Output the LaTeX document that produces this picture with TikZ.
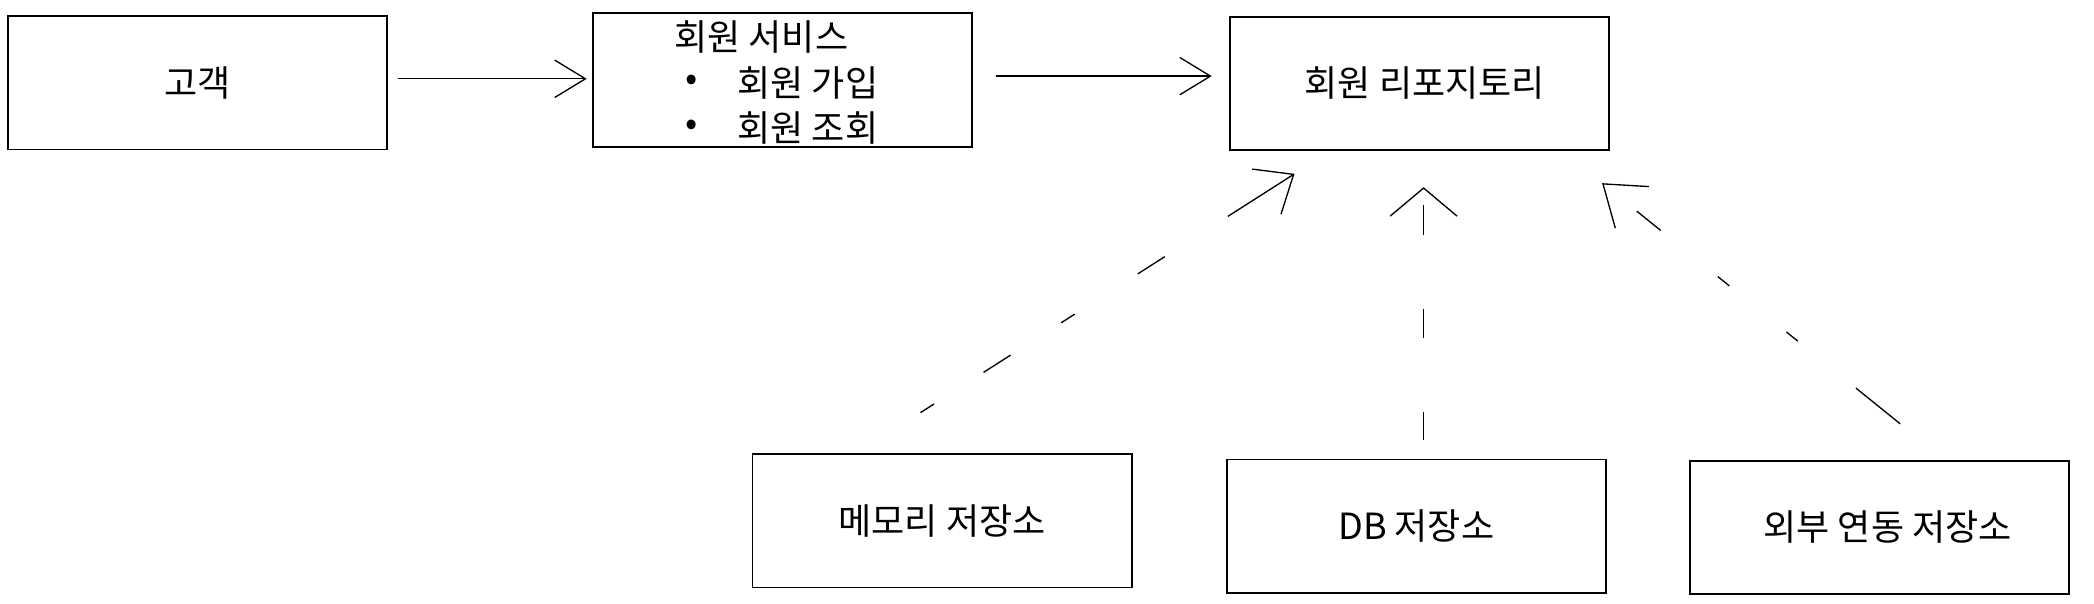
\documentclass[tikz,border=0pt]{standalone}
\usepackage{fontspec}
\setmainfont{Noto Sans CJK KR}
\usetikzlibrary{arrows.meta,calc}
\begin{document}
\begin{tikzpicture}[x=1pt,y=-1pt,
  box/.style={draw=black,line width=1.3pt,minimum width=284pt,minimum height=100pt,inner sep=0pt,font=\fontsize{27}{32}\selectfont},
  lbl/.style={inner sep=0pt,font=\fontsize{27}{32}\selectfont},
  solidarrow/.style={line width=1pt,-{Straight Barb[length=23pt,width=28pt,line width=1pt]}},
  depline/.style={line width=1pt},
  leftdash/.style={dash pattern=on 58pt off 56pt on 24pt off 56pt on 12pt off 45pt on 24pt off 44pt on 12pt off 100pt},
  rightdash/.style={dash pattern=on 0pt off 32pt on 23pt off 55pt on 11pt off 55pt on 11pt off 56pt on 44pt off 100pt},
  middash/.style={dash pattern=on 0pt off 12pt on 23pt off 55pt on 22pt off 55pt on 23pt off 100pt}]
\useasboundingbox[fill=white] (0,0) rectangle (1568,452);
\node[box] (cust) at (148,62) {고객};
\node[box] (svc) at (586,60) {};
\node[lbl] (svct) at (570,28) {회원 서비스};
\node[lbl] (b1) at (518,62) {•};
\node[lbl,anchor=west] (i1) at (552,62) {회원 가입};
\node[lbl] (b2) at (518,96) {•};
\node[lbl,anchor=west] (i2) at (552,96) {회원 조회};
\node[box] (repo) at (1063,62.5) {\hspace*{8pt}회원 리포지토리};
\node[box] (mem) at (705.5,390) {메모리 저장소};
\node[box] (db) at (1060.5,394) {DB 저장소};
\node[box] (ext) at (1407.5,395) {\hspace*{12pt}외부 연동 저장소};
\draw[solidarrow] ([xshift=7pt,yshift=3pt]cust.east) -- ([xshift=-4pt,yshift=1pt]svc.west);
\draw[solidarrow] ([xshift=17pt,yshift=3pt]svc.east) -- ([xshift=-13pt,yshift=5.5pt]repo.west);
\draw[depline,leftdash,{Straight Barb[length=24pt,width=40pt,line width=1pt]}-] ([xshift=49pt,yshift=-17pt]repo.south west) -- ([xshift=118pt,yshift=25pt]mem.north west);
\draw[depline,middash,{Straight Barb[length=21pt,width=50pt,line width=1pt]}-] ([xshift=3pt,yshift=-27pt]repo.south) -- ([xshift=5.5pt,yshift=14pt]db.north);
\draw[depline,rightdash,{Straight Barb[length=28pt,width=40pt,line width=1pt]}-] ([xshift=-6pt,yshift=-24pt]repo.south east) -- ([xshift=158pt,yshift=27pt]ext.north west);
\end{tikzpicture}
\end{document}
